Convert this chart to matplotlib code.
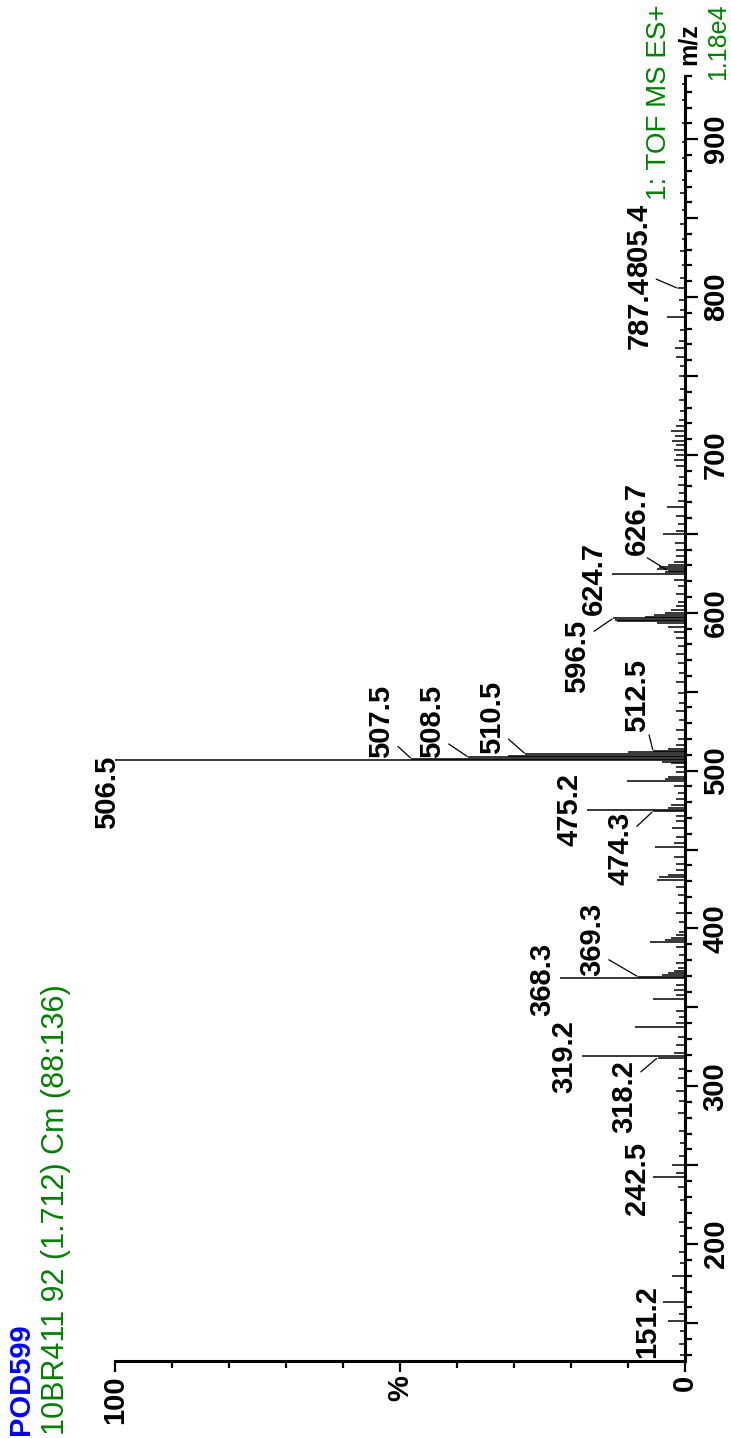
import matplotlib
matplotlib.use('Agg')
import matplotlib.pyplot as plt
from matplotlib.ticker import MultipleLocator, FixedLocator

plt.rcParams['font.family'] = ['Liberation Sans', 'DejaVu Sans']

# peak list: m/z and relative intensity (%)
mz = [130, 137, 145, 151.2, 156, 163.5, 172, 179.7, 188, 195,
      205, 214, 228, 236, 242.5, 245, 250, 256, 264, 272,
      283, 291, 297, 305, 311, 318.2, 319.2, 321, 326, 331,
      337.5, 340, 344, 348, 355.3, 358, 361, 364, 368.3, 369.3,
      370.3, 371.5, 373, 375, 378, 383, 388, 391.2, 392.5, 394,
      396, 398, 404, 410, 416, 421, 426, 431, 432.5, 434,
      437, 441, 445, 451.7, 454, 458, 463.8, 468, 471, 474.3,
      475.2, 476.5, 478, 482, 486, 490, 493.2, 494.5, 496, 499,
      502, 504.5, 505.5, 506.5, 507.5, 508.5, 509.5, 510.5, 511.5, 512.5,
      513.5, 516, 520, 526, 532, 538, 543, 549, 556, 562,
      568, 574, 579, 584, 588, 591, 593.5, 594.5, 595.5, 596.5,
      597.5, 598.5, 600, 602, 604, 607, 612, 617, 621, 624.7,
      625.7, 626.7, 627.7, 628.7, 630, 632, 636, 640, 644, 649.6,
      652, 656, 661, 667, 671, 676, 681, 686, 693, 697,
      700, 703, 706, 709, 712, 715, 718, 722, 728, 735,
      742, 750, 756, 762, 768, 772, 779, 787.4, 792, 798,
      805.4, 812, 820, 829, 837, 846, 855, 866, 874, 888,
      898, 910, 925, 935]
intensity = [0.8, 1.0, 0.8, 3.0, 1.0, 3.8, 0.8, 2.3, 0.8, 1.0,
             0.8, 1.0, 0.8, 1.2, 5.6, 1.5, 2.3, 1.0, 0.8, 1.0,
             1.2, 1.0, 1.5, 1.2, 1.0, 4.8, 18.0, 2.0, 1.5, 1.2,
             8.8, 1.5, 1.0, 1.5, 5.6, 1.5, 2.0, 1.5, 22.0, 8.2,
             4.0, 3.0, 2.0, 1.2, 1.5, 1.0, 1.5, 6.1, 3.5, 2.5,
             1.5, 1.0, 1.0, 1.5, 1.0, 1.2, 1.5, 4.9, 4.5, 3.0,
             1.5, 1.5, 2.0, 5.2, 2.0, 1.5, 2.2, 1.5, 1.5, 5.6,
             17.2, 3.0, 2.5, 1.5, 1.2, 2.0, 10.2, 3.5, 3.0, 1.5,
             1.5, 2.5, 4.0, 100.0, 48.0, 38.0, 31.0, 28.0, 10.0, 5.6,
             3.0, 1.5, 1.2, 1.5, 1.0, 1.5, 1.0, 1.2, 1.5, 1.0,
             1.2, 1.5, 1.2, 1.5, 2.0, 3.0, 5.0, 12.0, 12.2, 12.6,
             7.0, 5.5, 3.5, 2.5, 1.5, 1.2, 1.5, 1.2, 2.0, 12.8,
             3.5, 3.0, 5.0, 4.5, 3.0, 2.0, 1.5, 1.5, 1.8, 3.8,
             1.5, 1.2, 1.5, 3.2, 1.2, 1.0, 1.2, 1.0, 1.5, 2.0,
             1.5, 2.0, 1.5, 2.2, 1.8, 2.5, 1.5, 1.0, 0.8, 1.0,
             0.8, 1.0, 0.8, 1.5, 1.8, 1.0, 0.8, 3.2, 0.8, 1.0,
             1.2, 0.8, 0.6, 0.8, 0.6, 0.8, 0.6, 0.8, 0.6, 0.6,
             0.5, 0.6, 0.5, 0.5]

# labelled peaks
label_mz = [151.2, 242.5, 318.2, 319.2, 368.3, 369.3, 474.3, 475.2, 506.5,
            507.5, 508.5, 510.5, 512.5, 596.5, 624.7, 626.7, 787.4, 805.4]

# where each label sits (intensity, m/z) and where its leader leaves the text
label_xy = {151.2: (6.7, 151.2), 242.5: (8.4, 241.9), 318.2: (10.7, 293.8),
            319.2: (21.1, 318.6), 368.3: (25.1, 368.0), 369.3: (16.3, 392.8),
            474.3: (11.4, 450.5), 475.2: (20.2, 475.2), 506.5: (101.4, 486.0),
            507.5: (53.3, 531.3), 508.5: (44.4, 531.0), 510.5: (33.9, 533.5),
            512.5: (8.4, 547.5), 596.5: (18.9, 572.2), 624.7: (16.0, 621.7),
            626.7: (8.4, 659.7), 787.4: (7.9, 790.4), 805.4: (8.0, 836.0)}
leader_from = {318.2: (1.0, 0.8), 369.3: (1.0, 0.25), 474.3: (1.0, 0.77),
               507.5: (1.0, 0.19), 508.5: (1.0, 0.22), 510.5: (1.0, 0.24),
               512.5: (0.9, 0.0), 596.5: (1.0, 0.82), 626.7: (0.7, 0.0),
               805.4: (0.9, 0.0)}

W, H = 731, 1438
fig = plt.figure(figsize=(W / 100, H / 100), dpi=100)
ax = fig.add_axes([115 / W, 77 / H, 570 / W, (1361 - 76) / H])

ax.hlines(mz, 0, intensity, color='black', lw=1.1)

ax.set_xlim(100, 0)
ax.set_ylim(126, 940)

for s in ['top', 'left']:
    ax.spines[s].set_visible(False)
for s in ['bottom', 'right']:
    ax.spines[s].set_linewidth(2.2)

# intensity axis
ax.xaxis.set_major_locator(FixedLocator([0, 50, 100]))
ax.set_xticklabels(['0', '%', '100'], rotation=90, fontweight='bold', fontsize=21)
ax.xaxis.set_minor_locator(MultipleLocator(10))
ax.tick_params(axis='x', which='major', length=8, width=1.6, pad=2)
ax.tick_params(axis='x', which='minor', length=5, width=1.6)

# m/z axis
ax.yaxis.tick_right()
ax.yaxis.set_major_locator(MultipleLocator(50))
ax.yaxis.set_minor_locator(MultipleLocator(10))
ticks = ax.get_yticks()
ax.set_yticks(ticks)
ax.set_yticklabels(['%d' % t if t % 100 == 0 else '' for t in ticks],
                   rotation=90, fontweight='bold', fontsize=21, va='center')
ax.set_ylim(126, 940)
ax.tick_params(axis='y', which='major', length=9, width=1.6, pad=3)
ax.tick_params(axis='y', which='minor', length=5, width=1.6)

ax.annotate('m/z', xy=(1, 1), xycoords='axes fraction', xytext=(3, 8),
            textcoords='offset points', rotation=90, ha='center', va='bottom',
            fontweight='bold', fontsize=18)

for m in label_mz:
    tip = (intensity[mz.index(m)], m)
    lx, ly = label_xy[m]
    if m in leader_from:
        ax.annotate('%.1f' % m, xy=tip, xytext=(lx, ly), rotation=90,
                    ha='center', va='center', fontweight='bold', fontsize=21,
                    arrowprops=dict(arrowstyle='-', lw=0.9, color='black',
                                    shrinkA=0, shrinkB=1,
                                    relpos=leader_from[m]))
    else:
        ax.text(lx, ly, '%.1f' % m, rotation=90, ha='center', va='center',
                fontweight='bold', fontsize=21)

green = '#008000'
fig.text(21 / W, 1 - 1435 / H, 'POD599', color='#0000FF', fontweight='bold',
         rotation=90, ha='center', va='bottom', fontsize=21)
fig.text(56 / W, 1 - 1435 / H, '10BR411 92 (1.712) Cm (88:136)', color=green,
         rotation=90, ha='center', va='bottom', fontsize=22)
fig.text(659 / W, 1 - 4 / H, '1: TOF MS ES+', color=green,
         rotation=90, ha='center', va='top', fontsize=20)
fig.text(718 / W, 1 - 4 / H, '1.18e4', color=green,
         rotation=90, ha='center', va='top', fontsize=18)

fig.savefig('out.png', dpi=100)
